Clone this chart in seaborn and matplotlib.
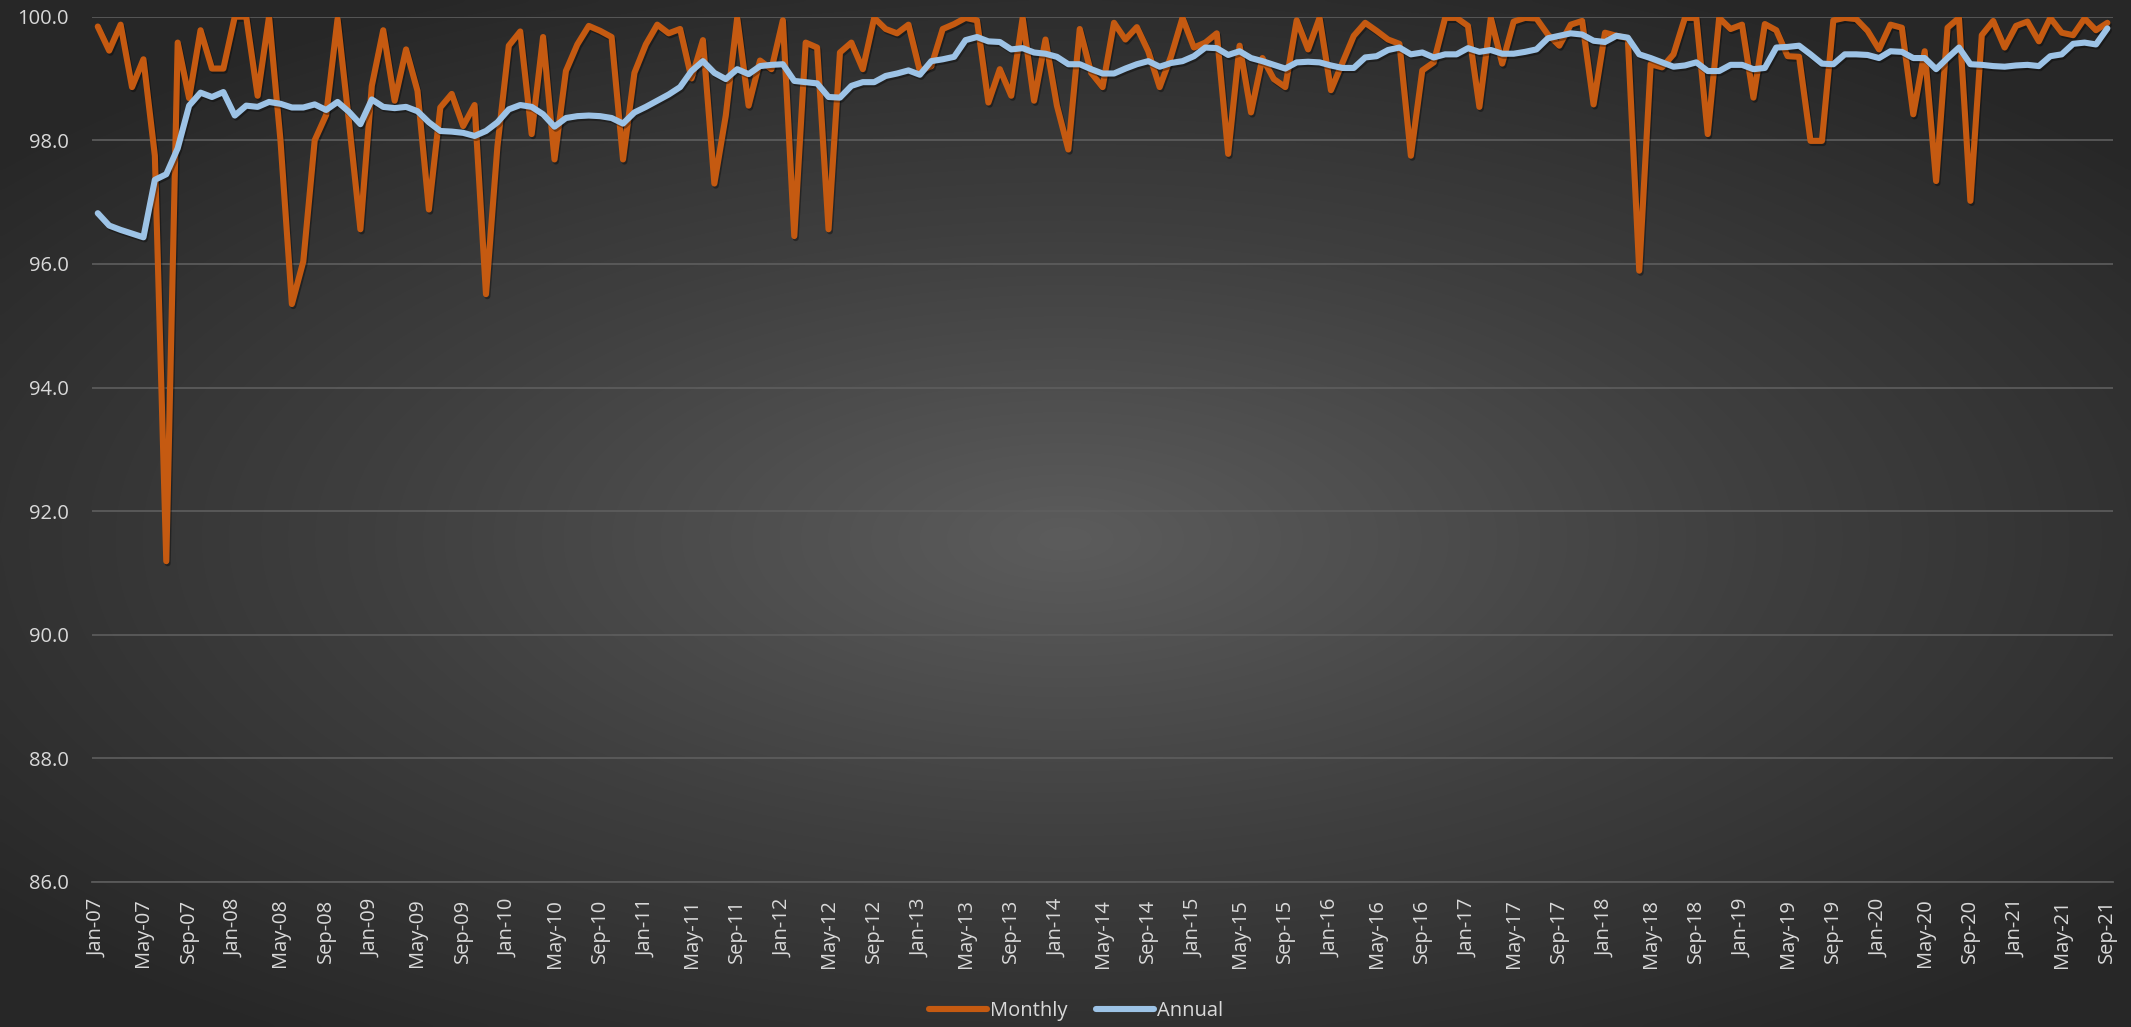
import numpy as np
import pandas as pd
import seaborn as sns
import matplotlib.pyplot as plt
import matplotlib.patheffects as pe

# monthly series, Jan-07 .. Sep-21
monthly = [
    99.84, 99.45, 99.87, 98.86, 99.31, 97.75, 91.19, 99.58, 98.68, 99.78, 99.16, 99.16,
    100.0, 100.0, 98.72, 100.0, 98.00, 95.35, 96.04, 98.00, 98.41, 99.96, 98.30, 96.56,
    98.88, 99.78, 98.64, 99.47, 98.80, 96.88, 98.53, 98.75, 98.23, 98.57, 95.51, 97.90,
    99.53, 99.76, 98.10, 99.67, 97.69, 99.12, 99.55, 99.85, 99.77, 99.67, 97.69, 99.09,
    99.55, 99.87, 99.73, 99.80, 99.00, 99.62, 97.30, 98.40, 99.98, 98.56, 99.29, 99.15,
    99.94, 96.45, 99.58, 99.50, 96.56, 99.42, 99.58, 99.15, 99.98, 99.80, 99.73, 99.87,
    99.12, 99.20, 99.80, 99.88, 99.98, 99.94, 98.61, 99.15, 98.72, 99.98, 98.64, 99.63,
    98.56, 97.85, 99.80, 99.09, 98.86, 99.90, 99.63, 99.83, 99.44, 98.86, 99.36, 99.98,
    99.50, 99.58, 99.73, 97.78, 99.53, 98.45, 99.33, 98.99, 98.86, 99.94, 99.47, 99.98,
    98.81, 99.25, 99.69, 99.90, 99.77, 99.63, 99.56, 97.75, 99.13, 99.26, 99.98, 99.98,
    99.85, 98.54, 99.98, 99.24, 99.92, 99.98, 99.97, 99.71, 99.53, 99.87, 99.93, 98.58,
    99.74, 99.69, 99.65, 95.89, 99.23, 99.18, 99.39, 99.98, 99.98, 98.10, 99.98, 99.80,
    99.87, 98.69, 99.88, 99.78, 99.36, 99.35, 97.99, 97.99, 99.94, 99.98, 99.96, 99.77,
    99.47, 99.87, 99.82, 98.42, 99.44, 97.34, 99.82, 99.98, 97.02, 99.70, 99.93, 99.50,
    99.85, 99.92, 99.60, 99.98, 99.74, 99.70, 99.97, 99.78, 99.90,
]

annual = [
    96.82, 96.62, 96.55, 96.49, 96.43, 97.36, 97.45, 97.87, 98.56, 98.77, 98.70, 98.78,
    98.40, 98.56, 98.54, 98.62, 98.59, 98.53, 98.53, 98.58, 98.49, 98.62, 98.46, 98.26,
    98.66, 98.54, 98.52, 98.54, 98.47, 98.29, 98.15, 98.14, 98.12, 98.07, 98.15, 98.29,
    98.50, 98.57, 98.54, 98.42, 98.22, 98.36, 98.39, 98.40, 98.39, 98.36, 98.27, 98.45,
    98.54, 98.64, 98.74, 98.86, 99.12, 99.28, 99.09, 98.99, 99.15, 99.07, 99.20, 99.22,
    99.23, 98.96, 98.94, 98.92, 98.70, 98.69, 98.88, 98.94, 98.94, 99.04, 99.08, 99.13,
    99.06, 99.28, 99.31, 99.35, 99.62, 99.67, 99.60, 99.59, 99.47, 99.49, 99.42, 99.40,
    99.35, 99.23, 99.23, 99.15, 99.08, 99.08, 99.16, 99.23, 99.28, 99.19, 99.25, 99.28,
    99.36, 99.50, 99.49, 99.38, 99.44, 99.33, 99.28, 99.22, 99.16, 99.26, 99.27, 99.26,
    99.21, 99.17, 99.17, 99.34, 99.36, 99.46, 99.50, 99.39, 99.42, 99.34, 99.39, 99.39,
    99.49, 99.43, 99.46, 99.40, 99.40, 99.43, 99.47, 99.65, 99.69, 99.73, 99.71, 99.61,
    99.59, 99.69, 99.66, 99.39, 99.33, 99.26, 99.19, 99.21, 99.26, 99.12, 99.12, 99.22,
    99.22, 99.15, 99.17, 99.50, 99.51, 99.53, 99.39, 99.24, 99.23, 99.39, 99.39, 99.38,
    99.33, 99.44, 99.43, 99.33, 99.33, 99.15, 99.33, 99.50, 99.23, 99.22, 99.20, 99.19,
    99.21, 99.22, 99.20, 99.36, 99.39, 99.56, 99.58, 99.55, 99.81,
]

months = pd.date_range("2007-01-01", periods=len(monthly), freq="MS").strftime("%b-%y")
y_ticks = [86, 88, 90, 92, 94, 96, 98, 100]

df = pd.DataFrame({"idx": range(len(monthly)), "Monthly": monthly, "Annual": annual})
long = df.melt(id_vars="idx", var_name="series", value_name="value")

sns.set_style("dark")
plt.rcParams["font.family"] = ["Open Sans", "DejaVu Sans"]
txt = "#d9d9d9"

fig = plt.figure(figsize=(21.31, 10.27), dpi=100)

# radial grey background, lighter in the middle
bg = fig.add_axes([0, 0, 1, 1], zorder=-10)
gx, gy = np.meshgrid(np.linspace(-1, 1, 400), np.linspace(-1, 1, 200))
r = np.sqrt((gx / 1.3) ** 2 + ((gy - 0.05) / 1.2) ** 2)
shade = np.clip(1 - r, 0, 1)
bg.imshow(shade, cmap=sns.blend_palette(["#272727", "#3f3f3f", "#5c5c5c"], as_cmap=True),
          aspect="auto", extent=[0, 1, 0, 1], vmin=0, vmax=1, interpolation="bicubic")
bg.axis("off")

ax = fig.add_axes([0.0432, 0.1412, 0.9484, 0.8426])
ax.set_facecolor("none")

sns.lineplot(data=long, x="idx", y="value", hue="series",
             palette={"Monthly": "#c55a11", "Annual": "#9dc3e6"},
             linewidth=4.4, ax=ax, legend=False, sort=False)
for ln in ax.lines:
    ln.set_solid_capstyle("round")
    ln.set_solid_joinstyle("round")
    ln.set_path_effects([pe.SimpleLineShadow(offset=(1, -1.5), alpha=0.35, shadow_color="black"), pe.Normal()])

ax.set_xlim(-0.5, len(monthly) - 0.5)
ax.set_ylim(86, 100)
ax.set_yticks(y_ticks)
ax.set_yticklabels([f"{v:.1f}" for v in y_ticks])
ax.set_xticks(range(0, len(monthly), 4))
ax.set_xticklabels(months[::4], rotation=90)
ax.set_xticks(np.arange(-0.5, len(monthly), 4), minor=True)
ax.tick_params(axis="x", which="major", length=0, pad=12, labelsize=14.5, colors=txt)
ax.tick_params(axis="x", which="minor", length=6, width=1.2, color="#5a5a5a", direction="out")
ax.tick_params(axis="y", length=0, pad=17, labelsize=14.5, colors=txt)
ax.set_xlabel("")
ax.set_ylabel("")

ax.grid(axis="y", color="#5e5e5e", linewidth=1.2)
ax.grid(axis="x", visible=False)
ax.set_axisbelow(True)
for s in ["top", "right", "left"]:
    ax.spines[s].set_visible(False)
ax.spines["bottom"].set_color("#5a5a5a")
ax.spines["bottom"].set_linewidth(1.3)

handles = [plt.Line2D([], [], color="#c55a11", lw=4.4, solid_capstyle="round"),
           plt.Line2D([], [], color="#9dc3e6", lw=4.4, solid_capstyle="round")]
fig.legend(handles, ["Monthly", "Annual"], loc="center", bbox_to_anchor=(0.505, 0.016),
           ncol=2, frameon=False, fontsize=14.5, labelcolor=txt,
           handlelength=2.9, handletextpad=0.15, columnspacing=1.4)

fig.savefig("out.png", dpi=100)
